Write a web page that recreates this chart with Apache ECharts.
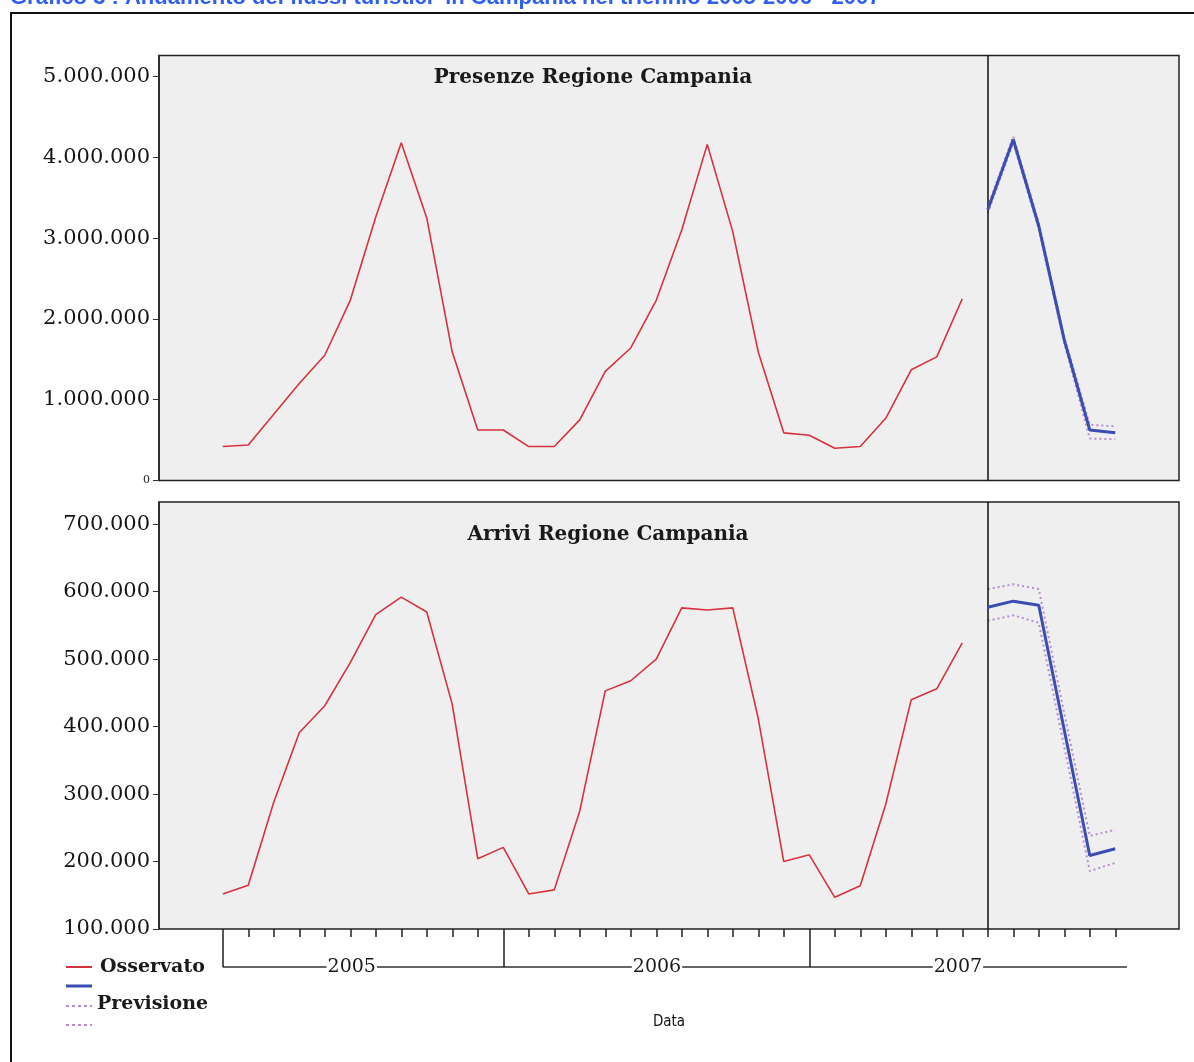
<!DOCTYPE html>
<html>
<head>
<meta charset="utf-8">
<script src="https://cdn.jsdelivr.net/npm/echarts@6/dist/echarts.min.js"></script>
<style>
  html, body { margin: 0; padding: 0; background: #fff; }
  #chart { width: 1194px; height: 1062px; }
</style>
</head>
<body>
<div id="chart"></div>
<script>
// mesi (asse x)
const mesi = [
  'gen 2005', 'feb 2005', 'mar 2005', 'apr 2005', 'mag 2005', 'giu 2005',
  'lug 2005', 'ago 2005', 'set 2005', 'ott 2005', 'nov 2005', 'dic 2005',
  'gen 2006', 'feb 2006', 'mar 2006', 'apr 2006', 'mag 2006', 'giu 2006',
  'lug 2006', 'ago 2006', 'set 2006', 'ott 2006', 'nov 2006', 'dic 2006',
  'gen 2007', 'feb 2007', 'mar 2007', 'apr 2007', 'mag 2007', 'giu 2007',
  'lug 2007', 'ago 2007', 'set 2007', 'ott 2007', 'nov 2007', 'dic 2007'
]
const inizioPrevisione = 'lug 2007'

// Presenze - osservato (gen 2005 - giu 2007)
const presenzeOsservato = [
  420000, 440000, 820000, 1200000, 1550000, 2230000, 3260000, 4180000, 3250000, 1590000, 625000, 625000,
  420000, 420000, 750000, 1350000, 1640000, 2230000, 3100000, 4160000, 3080000, 1590000, 590000, 560000,
  400000, 420000, 770000, 1370000, 1530000, 2250000
]
// Presenze - previsione (lug - dic 2007) con limiti
const presenzePrevisione = [3350000, 4220000, 3150000, 1740000, 625000, 590000]
const presenzeSup = [3390000, 4260000, 3190000, 1780000, 690000, 670000]
const presenzeInf = [3310000, 4180000, 3110000, 1700000, 520000, 510000]

// Arrivi - osservato
const arriviOsservato = [
  152000, 165000, 288000, 391000, 431000, 495000, 566000, 592000, 570000, 433000, 204000, 221000,
  152000, 158000, 275000, 453000, 468000, 500000, 576000, 573000, 576000, 412000, 200000, 210000,
  147000, 164000, 285000, 440000, 456000, 524000
]
// Arrivi - previsione
const arriviPrevisione = [577000, 586000, 580000, 395000, 209000, 219000]
const arriviSup = [604000, 611000, 604000, 420000, 238000, 247000]
const arriviInf = [557000, 565000, 554000, 370000, 186000, 198000]

// tacche asse y
const tickPresenze = [0, 1000000, 2000000, 3000000, 4000000, 5000000]
const tickArrivi = [100000, 200000, 300000, 400000, 500000, 600000, 700000]

// anni sull'asse x
const anni = ['2005', '2006', '2007']
const inizioAnni = [0, 11, 23]
const fineUltimoAnno = 35.46
const centroAnni = [5.06, 17.03, 28.83]

const serif = '"DejaVu Serif", "Liberation Serif", serif'
const fmt = v => String(v).replace(/\B(?=(\d{3})+(?!\d))/g, '.')
const idxPrev = mesi.indexOf(inizioPrevisione)
const mesiIdx = mesi.map((m, i) => i)
const toPts = (arr, off) => arr.map((v, i) => [i + off, v])

const rosso = '#d8313f'
const blu = '#3b4db3'
const viola = '#b98ad2'

function xAxisBase(grid) {
  return {
    type: 'value', gridIndex: grid, min: -2.5, max: 37.5, position: 'bottom',
    axisLine: { show: false, onZero: false }, axisTick: { show: false },
    axisLabel: { show: false }, splitLine: { show: false }
  }
}

function yAxisBase(grid, min, max, ticks) {
  return {
    type: 'value', gridIndex: grid, min: min, max: max, position: 'left',
    axisLine: { show: true, onZero: false, lineStyle: { color: '#222', width: 1.5 } },
    axisTick: { show: true, length: 6, customValues: ticks, lineStyle: { color: '#333' } },
    axisLabel: {
      customValues: ticks, margin: 9, color: '#151515', fontFamily: serif, fontSize: 21,
      formatter: v => v === 0 ? '{s|0}' : fmt(v),
      rich: { s: { fontSize: 11, fontFamily: serif, color: '#222' } }
    },
    splitLine: { show: false }
  }
}

function serieGrafico(grid, oss, prev, sup, inf) {
  const xi = grid === 0 ? 0 : 1
  const dotted = data => ({
    type: 'line', xAxisIndex: xi, yAxisIndex: grid,
    data: data, symbol: 'none', silent: true,
    lineStyle: { color: viola, width: 2, type: [2, 3] }, z: 3
  })
  return [
    {
      type: 'line', xAxisIndex: xi, yAxisIndex: grid,
      data: toPts(oss, 0), symbol: 'none', silent: true,
      lineStyle: { color: rosso, width: 1.6 }, z: 4,
      markLine: {
        silent: true, symbol: 'none', label: { show: false },
        lineStyle: { color: '#111', width: 1.5, type: 'solid' },
        data: [{ xAxis: idxPrev }]
      }
    },
    dotted(toPts(sup, idxPrev)),
    dotted(toPts(inf, idxPrev)),
    {
      type: 'line', xAxisIndex: xi, yAxisIndex: grid,
      data: toPts(prev, idxPrev), symbol: 'none', silent: true,
      lineStyle: { color: blu, width: 3 }, z: 5
    }
  ]
}

const chart = echarts.init(document.getElementById('chart'))

const gridStyle = { show: true, backgroundColor: '#efefef', borderColor: '#222', borderWidth: 1.5 }

const graficiStatici = [
  { type: 'rect', id: 'cornice', shape: { x: 11, y: 13, width: 1220, height: 1100 },
    style: { fill: 'none', stroke: '#111', lineWidth: 2 }, silent: true },
  { type: 'text', id: 'titolo', x: 10, y: 9,
    style: { text: 'Grafico 3 : Andamento dei flussi turistici  in Campania nel triennio 2005-2006 - 2007',
      fill: '#2f5ff0', font: 'bold 22px "Liberation Sans", Arial, sans-serif', verticalAlign: 'bottom' } },
  { type: 'text', id: 't1', x: 593, y: 78, z: 10,
    style: { text: 'Presenze Regione Campania', fill: '#1a1a1a', font: 'bold 20px ' + serif,
      align: 'center', verticalAlign: 'middle' } },
  { type: 'text', id: 't2', x: 608, y: 535, z: 10,
    style: { text: 'Arrivi Regione Campania', fill: '#1a1a1a', font: 'bold 20px ' + serif,
      align: 'center', verticalAlign: 'middle' } },
  // legenda
  { type: 'line', id: 'l1', shape: { x1: 66, y1: 967, x2: 92, y2: 967 }, style: { stroke: rosso, lineWidth: 2 } },
  { type: 'text', id: 'l1t', x: 100, y: 967,
    style: { text: 'Osservato', fill: '#1a1a1a', font: 'bold 19px ' + serif, verticalAlign: 'middle' } },
  { type: 'line', id: 'l2', shape: { x1: 66, y1: 986, x2: 92, y2: 986 }, style: { stroke: blu, lineWidth: 3 } },
  { type: 'line', id: 'l3', shape: { x1: 66, y1: 1006, x2: 92, y2: 1006 }, style: { stroke: viola, lineWidth: 2, lineDash: [3, 3] } },
  { type: 'text', id: 'l3t', x: 97, y: 1004,
    style: { text: 'Previsione', fill: '#1a1a1a', font: 'bold 19px ' + serif, verticalAlign: 'middle' } },
  { type: 'line', id: 'l4', shape: { x1: 66, y1: 1025, x2: 92, y2: 1025 }, style: { stroke: viola, lineWidth: 2, lineDash: [3, 3] } }
]

const option = {
  animation: false,
  backgroundColor: '#fff',
  grid: [
    Object.assign({ left: 159, top: 55.5, width: 1020, height: 425 }, gridStyle),
    Object.assign({ left: 159, top: 502, width: 1020, height: 427 }, gridStyle)
  ],
  xAxis: [
    xAxisBase(0),
    Object.assign(xAxisBase(1), {
      axisTick: { show: true, length: 8, customValues: mesiIdx, lineStyle: { color: '#222', width: 1.5 } }
    }),
    Object.assign(xAxisBase(1), {
      axisTick: { show: true, length: 38, customValues: inizioAnni, lineStyle: { color: '#222', width: 1.5 } },
      name: 'Data', nameLocation: 'middle', nameGap: 86,
      nameTextStyle: { fontFamily: '"DejaVu Sans Condensed", "Liberation Sans Narrow", sans-serif', fontSize: 15, color: '#111' }
    })
  ],
  yAxis: [
    yAxisBase(0, 0, 5260000, tickPresenze),
    yAxisBase(1, 100000, 733000, tickArrivi)
  ],
  series: [].concat(
    serieGrafico(0, presenzeOsservato, presenzePrevisione, presenzeSup, presenzeInf),
    serieGrafico(1, arriviOsservato, arriviPrevisione, arriviSup, arriviInf)
  ),
  graphic: { elements: graficiStatici }
}
chart.setOption(option)

// parentesi degli anni sotto l'asse
const px = v => chart.convertToPixel({ xAxisIndex: 1 }, v)
const yParentesi = 967
const parentesi = [
  { type: 'line', id: 'anniLinea', silent: true,
    shape: { x1: px(inizioAnni[0]), y1: yParentesi, x2: px(fineUltimoAnno), y2: yParentesi },
    style: { stroke: '#333', lineWidth: 1.5 } }
].concat(anni.map((a, i) => ({
  type: 'text', id: 'anno' + i, x: px(centroAnni[i]), y: yParentesi,
  style: { text: a, fill: '#1a1a1a', font: '19px ' + serif, align: 'center', verticalAlign: 'middle',
    backgroundColor: '#fff', padding: [0, 1] }
})))
chart.setOption({ graphic: { elements: graficiStatici.concat(parentesi) } })
</script>
</body>
</html>
